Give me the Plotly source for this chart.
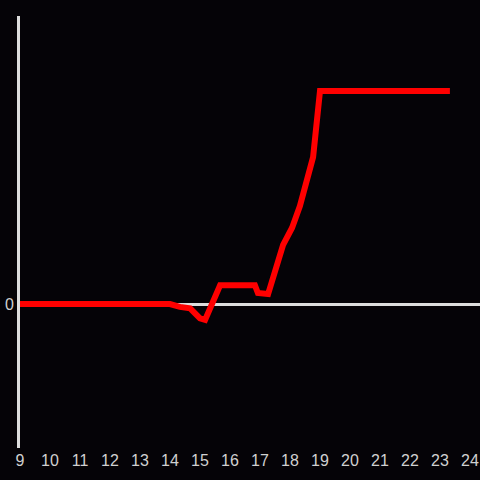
import plotly.graph_objects as go

# hour of day and the series value (arbitrary units)
hours = [9.0, 14.0, 14.33, 14.67, 15.0, 15.17, 15.67, 16.83, 16.93, 17.27,
         17.77, 18.07, 18.33, 18.77, 19.0, 23.33]
values = [0, 0, -2, -3, -10, -11, 13, 13, 7.6, 6.9,
          41, 53, 68, 102, 148, 148]
x_ticks = list(range(9, 25))

bg = '#050307'
axis_col = '#dddddd'
tick_font = dict(family='Liberation Sans', size=16, color='#d0d0d0')

fig = go.Figure(go.Scatter(
    x=hours, y=values, mode='lines',
    line=dict(color='#ff0000', width=6),
    hoverinfo='skip', showlegend=False,
))

fig.update_layout(
    width=480, height=480,
    margin=dict(l=20, r=0, t=16, b=32, autoexpand=False),
    paper_bgcolor=bg, plot_bgcolor=bg,
    font=tick_font,
    xaxis=dict(
        range=[9, 9 + 460 / 30], tickvals=x_ticks, automargin=False,
        showgrid=False, zeroline=False, showline=False,
        ticks='', tickfont=tick_font, ticklabelstandoff=1,
    ),
    yaxis=dict(
        range=[-100, 200], tickvals=[0], ticktext=['0'], automargin=False,
        showgrid=False, zeroline=True, zerolinecolor=axis_col, zerolinewidth=3,
        showline=True, linecolor=axis_col, linewidth=3,
        ticks='', tickfont=tick_font, ticklabelstandoff=0,
    ),
)

# page body has a default 8px margin; drop it so the chart fills the window
fig.write_html("out.html",
               config={'displayModeBar': False},
               post_script="document.body.style.margin='0';"
                           "document.body.style.background='%s';" % bg)
